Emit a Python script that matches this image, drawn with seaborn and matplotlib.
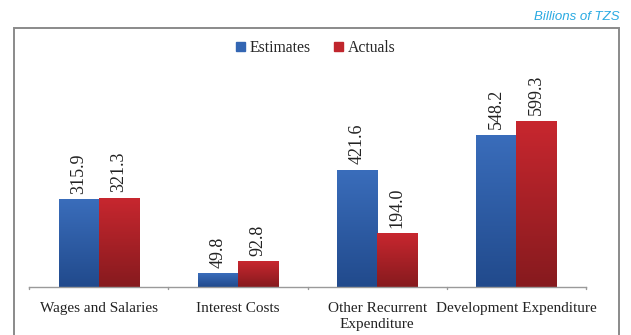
import numpy as np
import pandas as pd
import matplotlib
matplotlib.use("Agg")
import matplotlib.pyplot as plt
from matplotlib.colors import LinearSegmentedColormap
from matplotlib.patches import Rectangle
import seaborn as sns

categories = ["Wages and Salaries", "Interest Costs", "Other Recurrent\nExpenditure",
              "Development Expenditure"]
estimates = [315.9, 49.8, 421.6, 548.2]
actuals = [321.3, 92.8, 194.0, 599.3]
series = ["Estimates", "Actuals"]

df = pd.DataFrame({
    "category": categories * 2,
    "series": [series[0]] * 4 + [series[1]] * 4,
    "value": estimates + actuals,
})

sns.set_theme(style="white")
plt.rcParams["font.family"] = ["Liberation Serif", "DejaVu Serif"]

fig = plt.figure(figsize=(6.31, 3.35), dpi=100)
ax = fig.add_axes([29 / 631, 1 - 287 / 335, 557 / 631, 222 / 335])

palette = {"Estimates": "#3366b3", "Actuals": "#c0262d"}
sns.barplot(data=df, x="category", y="value", hue="series", palette=palette,
            width=0.575, ax=ax, legend=False, saturation=1)

ax.set_ylim(0, 800)
ax.set_xlim(-0.5, 3.5)
ax.set_xlabel("")
ax.set_ylabel("")
ax.set_yticks([])
for side in ["left", "right", "top"]:
    ax.spines[side].set_visible(False)
ax.spines["bottom"].set_color("#9a9a9a")
ax.spines["bottom"].set_linewidth(1.0)

# category labels and boundary ticks
ax.set_xticks([0, 1, 2, 3])
ax.set_xticklabels(categories, fontsize=11, color="#222222", linespacing=1.3,
                   va="top")
ax.tick_params(axis="x", length=0, pad=11)
for b in [-0.5, 0.5, 1.5, 2.5, 3.5]:
    ax.plot([b, b], [0, -8], color="#9a9a9a", lw=1.0, clip_on=False,
            transform=ax.transData)

# vertical gradient fills for each bar
gradients = {
    "Estimates": LinearSegmentedColormap.from_list("est", ["#214a8c", "#3a6dbb"]),
    "Actuals": LinearSegmentedColormap.from_list("act", ["#861a1e", "#c8272f"]),
}
grad = np.linspace(0, 1, 256).reshape(-1, 1)
patches = list(ax.patches)
for i, p in enumerate(patches):
    name = series[0] if i < 4 else series[1]
    x0, w, h = p.get_x(), p.get_width(), p.get_height()
    p.set_facecolor("none")
    p.set_edgecolor((1, 1, 1, 0.25))
    p.set_linewidth(0.6)
    im = ax.imshow(grad, extent=[x0, x0 + w, 0, h], origin="lower",
                   cmap=gradients[name], aspect="auto", zorder=2)
    im.set_clip_path(p)
    vals = estimates if i < 4 else actuals
    ax.text(x0 + w / 2, h + 20, f"{vals[i % 4]:.1f}", rotation=90,
            ha="center", va="bottom", fontsize=13, color="#222222")

ax.set_xlim(-0.5, 3.5)
ax.set_ylim(0, 800)

# legend
handles = [Rectangle((0, 0), 1, 1, color=palette[s]) for s in series]
fig.legend(handles, series, loc="center", bbox_to_anchor=(316 / 631, 1 - 48 / 335),
           ncol=2, frameon=False, fontsize=11.3, handlelength=0.55, handleheight=0.55,
           handletextpad=0.3, columnspacing=1.5)

# outer frame
fig.patches.append(Rectangle((14 / 631, -0.1), 605 / 631, 1.1 - 28 / 335,
                             transform=fig.transFigure, fill=False,
                             edgecolor="#8a8a8a", linewidth=1.4))

fig.text(620 / 631, 1 - 17 / 335, "Billions of TZS", ha="right", va="center",
         fontsize=9.5, style="italic", color="#2aaae2",
         family=["Liberation Sans", "DejaVu Sans"])

fig.savefig("out.png", dpi=100)
